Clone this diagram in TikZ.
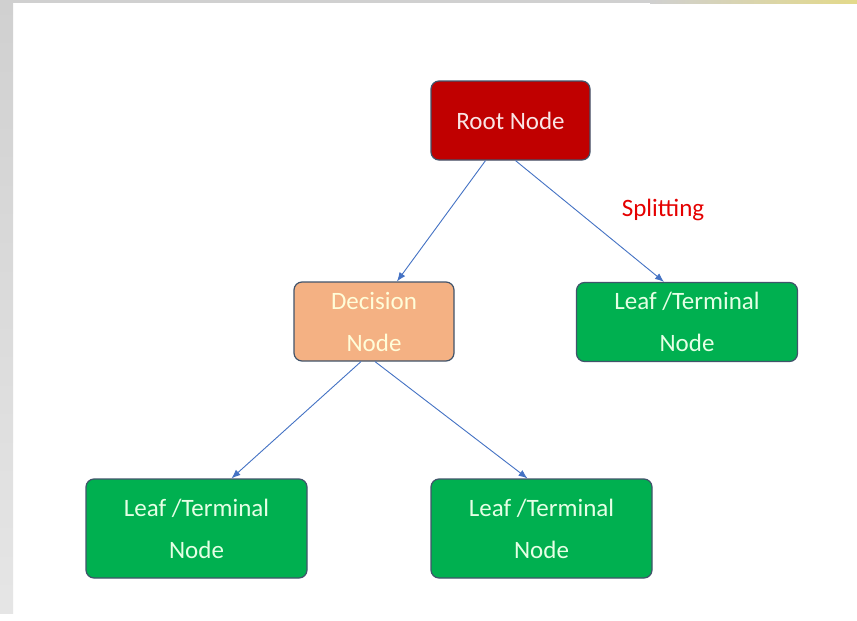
\documentclass[tikz,border=0pt]{standalone}
\usepackage{fontspec}
\setmainfont{Carlito}
\usepackage{tikz}
\usetikzlibrary{arrows.meta,calc}

\definecolor{rootred}{HTML}{C00000}
\definecolor{decorange}{HTML}{F4B183}
\definecolor{leafgreen}{HTML}{00B050}
\definecolor{edgeblue}{HTML}{4472C4}
\definecolor{boxline}{HTML}{41546B}
\definecolor{stripgrey}{HTML}{D0D0D0}
\definecolor{stripyellow}{HTML}{E3D98A}

\tikzset{
  box/.style={draw=boxline, line width=1.2pt, rounded corners=8pt, align=center,
    font=\fontsize{25}{42}\selectfont, inner sep=0pt},
  rootbox/.style={box, fill=rootred, text=white!90!rootred, minimum width=159pt, minimum height=79pt},
  decbox/.style={box, fill=decorange, text=yellow!15!white, minimum width=160pt, minimum height=79pt},
  leafbox/.style={box, fill=leafgreen, text=green!10!white, minimum width=221pt, minimum height=79pt},
  split/.style={draw=edgeblue, line width=0.9pt, -{Latex[length=9pt,width=7pt]}}
}

\begin{document}
\begin{tikzpicture}[x=1pt,y=-1pt]
\useasboundingbox (0,0) rectangle (857,621);
% frame
\fill[white] (0,0) rectangle (857,621);
\shade[top color=stripgrey, bottom color=gray!20] (0,0) rectangle (13,613);
\shade[left color=stripgrey, right color=stripyellow] (650,0) rectangle (857,3);
\fill[stripgrey] (0,0) rectangle (650,3);

% boxes
\node[rootbox] (root) at (510.5,120.5) {Root Node};
\node[decbox] (dec) at (374,321.5) {Decision\\Node};
\node[leafbox] (leafR) at (687,322) {Leaf /Terminal\\Node};
\node[leafbox, minimum height=99pt] (leafL) at (196.5,528.5) {Leaf /Terminal\\Node};
\node[leafbox, minimum height=99pt] (leafM) at (541.5,528.5) {Leaf /Terminal\\Node};

% label
\node[text=red!90!black, font=\fontsize{25}{28}\selectfont] (splitlbl) at (663,210) {Splitting};

% edges
\draw[split] ($(root.south)+(-25,0)$) -- ($(dec.north)+(23,0)$);
\draw[split] ($(root.south)+(5,0)$) -- ($(leafR.north)+(-23,0)$);
\draw[split] ($(dec.south)+(-13,0)$) -- ($(leafL.north)+(35,0)$);
\draw[split] ($(dec.south)+(1,0)$) -- ($(leafM.north)+(-14,0)$);
\end{tikzpicture}
\end{document}
